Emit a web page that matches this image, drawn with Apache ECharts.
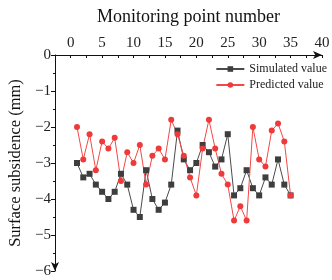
<!DOCTYPE html>
<html>
<head>
    <meta charset="utf-8" />
    <title>Surface subsidence</title>
</head>
<body style="margin:0">
    <div id="main" style="width:332px;height:280px;"></div>
    <script src="https://cdn.jsdelivr.net/npm/echarts@6/dist/echarts.min.js"></script>
    <script type="text/javascript">
        // monitoring points 1..35
        var points = [];
        for (var i = 1; i <= 35; i++) points.push(i);

        var simulated = [-3.0, -3.4, -3.3, -3.6, -3.8, -4.0, -3.8, -3.3, -3.6, -4.3,
                         -4.5, -3.2, -4.0, -4.3, -4.1, -3.6, -2.1, -2.9, -3.2, -3.0,
                         -2.5, -2.7, -3.1, -2.9, -2.2, -3.9, -3.7, -3.2, -3.7, -3.9,
                         -3.4, -3.6, -2.9, -3.6, -3.9];
        var predicted = [-2.0, -2.9, -2.2, -3.2, -2.4, -2.6, -2.3, -3.5, -2.7, -3.0,
                         -2.5, -3.6, -2.8, -2.6, -2.9, -1.8, -2.2, -2.8, -3.4, -3.9,
                         -2.6, -1.8, -2.6, -3.3, -3.6, -4.6, -4.2, -4.6, -2.0, -2.9,
                         -3.1, -2.1, -1.9, -2.4, -3.9];

        function pairs(vals) {
            return vals.map(function (v, i) { return [points[i], v]; });
        }

        var font = 'Liberation Serif';
        var chart = echarts.init(document.getElementById('main'));
        var option = {
            animation: false,
            textStyle: { fontFamily: font },
            grid: { left: 55, top: 55, right: 10, bottom: 9, outerBoundsMode: 'none' },
            legend: {
                orient: 'vertical',
                right: 0,
                top: 58,
                itemWidth: 28,
                itemHeight: 7,
                itemGap: 4,
                textStyle: { fontFamily: font, fontSize: 12, color: '#222' },
                data: ['Simulated value', 'Predicted value']
            },
            xAxis: {
                type: 'value',
                position: 'top',
                min: -2.5,
                max: 40,
                interval: 2.5,
                name: 'Monitoring point number',
                nameLocation: 'middle',
                nameGap: 29,
                nameTextStyle: { fontFamily: font, fontSize: 18, color: '#111' },
                axisLine: { onZero: false, lineStyle: { color: '#111', width: 1 }, symbol: ['none', 'arrow'], symbolSize: [6, 9] },
                axisTick: { inside: true, length: 3, lineStyle: { color: '#111' } },
                axisLabel: {
                    fontFamily: font, fontSize: 15, color: '#222', margin: 4,
                    formatter: function (v) { return (v >= 0 && v % 5 === 0) ? String(v) : ''; }
                },
                splitLine: { show: false }
            },
            yAxis: {
                type: 'value',
                min: -6,
                max: 0,
                interval: 1,
                name: 'Surface subsidence (mm)',
                nameLocation: 'middle',
                nameGap: 30,
                nameRotate: 90,
                nameTextStyle: { fontFamily: font, fontSize: 16.5, color: '#111' },
                axisLine: { onZero: false, lineStyle: { color: '#111', width: 1 }, symbol: ['arrow', 'none'], symbolSize: [6, 9] },
                axisTick: { length: 4, lineStyle: { color: '#111' } },
                minorTick: { show: true, splitNumber: 2, length: 2, lineStyle: { color: '#111' } },
                axisLabel: {
                    fontFamily: font, fontSize: 15, color: '#222', margin: 4,
                    formatter: function (v) {
                        return v === 0 ? '0' : '\u2212' + Math.abs(v);
                    }
                },
                splitLine: { show: false }
            },
            series: [
                {
                    name: 'Simulated value',
                    type: 'line',
                    data: pairs(simulated),
                    symbol: 'rect',
                    symbolSize: 6,
                    lineStyle: { color: '#4a4a4a', width: 1 },
                    itemStyle: { color: '#3e3e3e' }
                },
                {
                    name: 'Predicted value',
                    type: 'line',
                    data: pairs(predicted),
                    symbol: 'circle',
                    symbolSize: 6,
                    lineStyle: { color: '#f24848', width: 1 },
                    itemStyle: { color: '#ee3a3a' }
                }
            ]
        };
        chart.setOption(option);
    </script>
</body>
</html>
